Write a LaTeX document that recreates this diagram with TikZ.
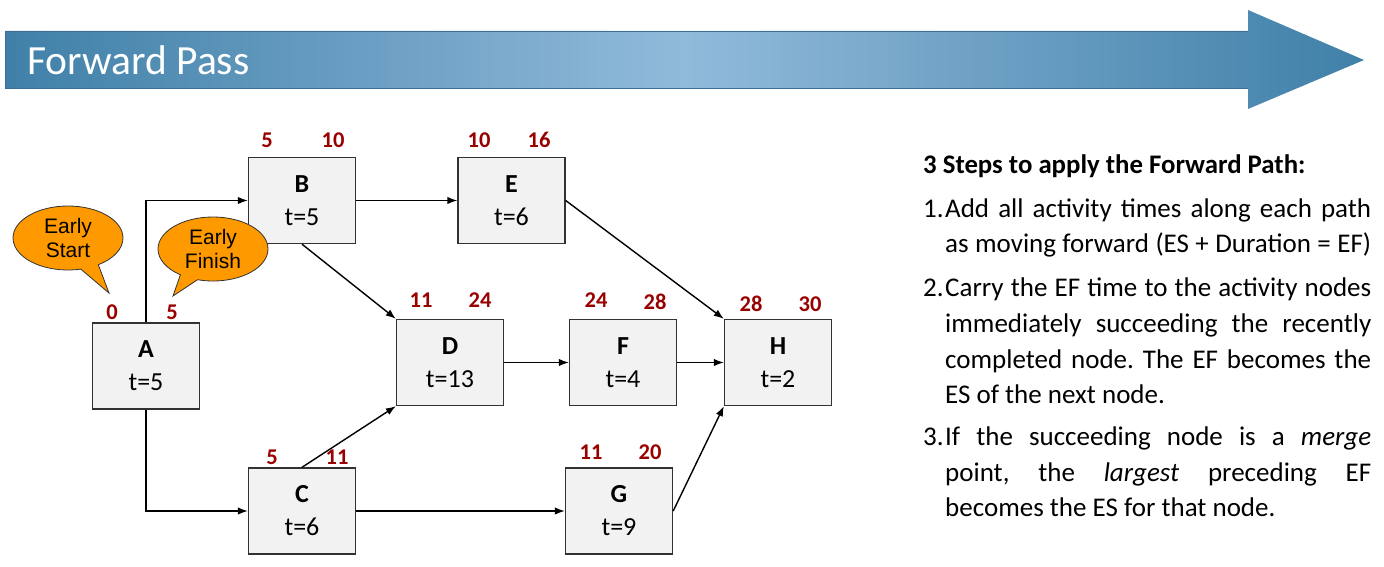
\documentclass[tikz,border=0pt]{standalone}
\usepackage{fontspec}
\setmainfont{Carlito}
\newfontfamily\arialfont{Liberation Sans}
\usetikzlibrary{arrows.meta,shapes.callouts}
\definecolor{boxfill}{RGB}{242,242,242}
\definecolor{boxline}{RGB}{50,50,50}
\definecolor{numred}{RGB}{153,0,0}
\definecolor{bandark}{RGB}{64,128,168}
\definecolor{banlight}{RGB}{145,186,218}
\definecolor{banline}{RGB}{60,110,150}
\definecolor{calloutfill}{RGB}{255,153,0}
\frenchspacing
\tikzset{
  actbox/.style={draw=boxline, fill=boxfill, line width=1.4pt, minimum width=107pt, minimum height=86pt, inner sep=0pt, align=center, font=\fontsize{26}{33}\selectfont},
  esef/.style={text=numred, font=\fontsize{22.5}{22.5}\selectfont\bfseries, inner sep=0pt},
  conn/.style={line width=1.4pt, -{Latex[length=10pt,width=7.5pt]}},
  callbubble/.style={ellipse callout, draw=black!80, fill=calloutfill, line width=0.8pt, minimum width=110pt, minimum height=64pt, inner sep=0pt, align=center, callout pointer arc=20, font=\arialfont\fontsize{21}{24.5}\selectfont},
  txt/.style={anchor=base west, inner sep=0pt, font=\fontsize{27}{27}\selectfont},
}
\begin{document}
\begin{tikzpicture}[x=1pt,y=-1pt]
\useasboundingbox (0,0) rectangle (1384,567);
% banner
\shade[left color=bandark, right color=bandark, middle color=banlight]
  (5,31) -- (1248,31) -- (1248,10) -- (1364,60) -- (1248,109) -- (1248,88) -- (5,88) -- cycle;
\draw[banline, line width=0.8pt] (5,31) -- (1248,31) (5,88) -- (1248,88) (5,31) -- (5,88);
\node[anchor=base west, inner sep=0pt, text=white, font=\fontsize{41.5}{41.5}\selectfont] (title) at (27,75) {Forward Pass};

% activity boxes
\node[actbox] (A) at (146,366) {\textbf{A}\\t=5};
\node[actbox] (B) at (302,200.5) {\textbf{B}\\t=5};
\node[actbox] (E) at (511.5,200.5) {\textbf{E}\\t=6};
\node[actbox] (D) at (450,362.5) {\textbf{D}\\t=13};
\node[actbox] (F) at (623,362.5) {\textbf{F}\\t=4};
\node[actbox] (H) at (778,362.5) {\textbf{H}\\t=2};
\node[actbox] (C) at (302,511) {\textbf{C}\\t=6};
\node[actbox] (G) at (619,511) {\textbf{G}\\t=9};

% ES / EF numbers
\node[esef] (aes) at (112,312) {0};
\node[esef] (aef) at (172,312) {5};
\node[esef] (bes) at (267,140) {5};
\node[esef] (bef) at (333,140) {10};
\node[esef] (ees) at (479,140) {10};
\node[esef] (eef) at (539,140) {16};
\node[esef] (des) at (421,300) {11};
\node[esef] (def) at (480,300) {24};
\node[esef] (fes) at (596,300) {24};
\node[esef] (fef) at (655,302) {28};
\node[esef] (hes) at (751,304) {28};
\node[esef] (hef) at (810,304) {30};
\node[esef] (ces) at (272,457) {5};
\node[esef] (cef) at (337,457) {11};
\node[esef] (ges) at (591,452) {11};
\node[esef] (gef) at (650,452) {20};

% connectors
\draw[conn] (A.north) |- (B.west);
\draw[conn] (A.south) |- (C.west);
\draw[conn] (B.east) -- (E.west);
\draw[conn] (B.south) -- (D.north west);
\draw[conn] (C.north) -- (D.south west);
\draw[conn] (C.east) -- (G.west);
\draw[conn] (D.east) -- (F.west);
\draw[conn] (F.east) -- (H.west);
\draw[conn] (E.east) -- (H.north west);
\draw[conn] (G.east) -- (H.south west);

% callouts
\node[callbubble, callout absolute pointer={(109,293)}] (es) at (68,238) {Early\\Start};
\node[callbubble, callout absolute pointer={(173,296)}] (ef) at (213,249) {Early\\Finish};

% steps text
\node[anchor=base west, inner sep=0pt, font=\fontsize{26.8}{26.8}\selectfont\bfseries] (steps) at (923,174) {3 Steps to apply the Forward Path:};
\node[txt] (l1) at (923,217) {\makebox[22pt][l]{1.}\makebox[426pt][s]{Add all activity times along each path}};
\node[txt] (l2) at (945,252) {\makebox[426pt][s]{as moving forward (ES + Duration = EF)}};
\node[txt] (l3) at (923,296) {\makebox[22pt][l]{2.}\makebox[426pt][s]{Carry the EF time to the activity nodes}};
\node[txt] (l4) at (945,332) {\makebox[426pt][s]{immediately succeeding the recently}};
\node[txt] (l5) at (945,368) {\makebox[426pt][s]{completed node. The EF becomes the}};
\node[txt] (l6) at (945,403) {ES of the next node.};
\node[txt] (l7) at (923,445) {\makebox[22pt][l]{3.}\makebox[426pt][s]{If the succeeding node is a \textit{merge}}};
\node[txt] (l8) at (945,481) {\makebox[426pt][s]{point, the \textit{largest} preceding EF}};
\node[txt] (l9) at (945,516) {becomes the ES for that node.};
\end{tikzpicture}
\end{document}
